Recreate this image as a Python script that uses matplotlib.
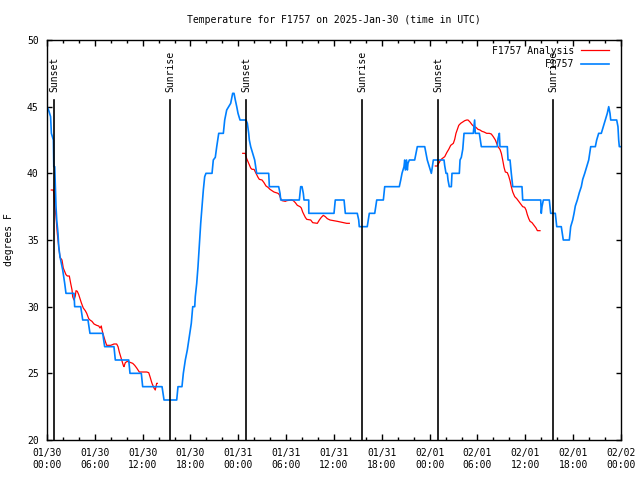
"""Temperature for F1757, 2025-Jan-30 .. Feb-02 (gnuplot style recreation)."""
import matplotlib
matplotlib.use("Agg")
import matplotlib.pyplot as plt
import matplotlib.dates as mdates
import matplotlib.transforms as mtransforms
import numpy as np
import pandas as pd

# ---- data: hours since 2025-01-30 00:00 UTC, temperature in F ----
obs_hours = [
    0.0, 0.2, 0.45, 0.55, 0.8, 0.85, 0.97, 1.04, 1.13, 1.22, 1.38, 1.47, 1.63, 1.97, 2.22, 2.38,
    3.39, 3.47, 4.23, 4.48, 5.14, 5.39, 6.99, 7.23, 8.40, 8.57, 10.25, 10.41, 11.83, 12.0,
    14.43, 14.68, 16.27, 16.43, 16.93, 17.10, 17.35, 17.60, 17.85, 18.10, 18.28, 18.53, 18.60,
    18.78, 18.94, 19.10, 19.28, 19.44, 19.61, 19.78, 19.94, 20.70, 20.86, 21.11, 21.29, 21.54,
    22.12, 22.29, 22.54, 22.79, 23.04, 23.29, 23.46, 23.62, 23.80, 23.96, 24.21, 24.96, 25.13,
    25.30, 25.38, 25.55, 25.80, 26.05, 26.22, 26.30, 27.81, 27.89, 29.06, 29.23, 29.32, 31.65,
    31.82, 31.99, 32.15, 32.24, 32.83, 32.84, 36.00, 36.16, 37.26, 37.42, 38.92, 39.10, 39.17,
    40.17, 40.43, 41.11, 41.36, 42.19, 42.36, 44.19, 44.37, 44.53, 44.78, 44.87, 44.95, 45.10,
    45.20, 45.28, 45.45, 46.12, 46.29, 46.45, 47.38, 47.54, 47.70, 47.95, 48.21, 48.29, 48.46,
    49.80, 49.88, 50.05, 50.21, 50.30, 50.46, 50.72, 50.80, 51.72, 51.81, 51.97, 52.15, 52.31,
    53.47, 53.64, 53.72, 54.23, 54.48, 56.48, 56.57, 56.74, 56.82, 57.74, 57.83, 58.08, 58.24,
    58.42, 59.58, 59.67, 61.93, 62.00, 62.09, 62.26, 63.01, 63.18, 63.76, 63.94, 64.51, 64.76,
    65.52, 65.69, 65.94, 66.11, 66.27, 66.52, 66.77, 67.02, 67.20, 67.45, 67.70, 67.95, 68.20,
    68.78, 68.95, 69.20, 69.53, 69.78, 70.03, 70.28, 70.46, 70.62, 70.71, 71.46, 71.62, 71.71,
    71.79, 72.0,
]
obs_temp = [
    45, 44.75, 44.25, 43, 42.5, 40.5, 40.5, 39.25, 37.5, 36.5, 35.5, 34.5, 33.75, 32.75, 31.75, 31,
    31, 30, 30, 29, 29, 28, 28, 27, 27, 26, 26, 25, 25, 24,
    24, 23, 23, 24, 24, 25, 26, 26.75, 27.75, 28.75, 30, 30, 30.75,
    31.75, 33, 34.5, 36.25, 37.5, 38.75, 39.75, 40, 40, 41, 41.2, 42, 43,
    43, 44, 44.75, 45, 45.25, 46, 46, 45.5, 45, 44.5, 44, 44, 43.75,
    43, 42.5, 42, 41.5, 41, 40.3, 40, 40, 39, 39, 38.5, 38, 38,
    39, 39, 38.5, 38, 38, 37, 37, 38, 38, 37, 37, 36.5, 36,
    36, 37, 37, 38, 38, 39, 39, 39.5, 40, 40.5, 41, 40.25, 41,
    40.25, 40.75, 41, 41, 41.5, 42, 42, 41.5, 41, 40.5, 40, 40.3, 41,
    41, 40.6, 40, 40, 39.5, 39, 39, 40, 40, 41, 41.2, 41.8, 43,
    43, 44, 43, 43, 42, 42, 42.6, 43, 42, 42, 41, 41, 40,
    39, 39, 38, 38, 37, 37.5, 38, 38, 37, 37, 36, 36, 35,
    35, 36, 36.5, 37, 37.55, 38, 38.55, 39, 39.55, 40, 40.5, 41, 42,
    42, 42.5, 43, 43, 43.5, 44, 44.5, 45, 44.5, 44, 44, 43.5, 42.5,
    42, 42,
]

# analysis series, three nightly segments separated by gaps (nan)
ana_hours = [
    0.54, 0.79, 0.88, 0.97, 1.13, 1.29, 1.47, 1.63, 1.88, 2.04, 2.38, 2.55, 2.80, 2.97, 3.14,
    3.22, 3.39, 3.55, 3.64, 3.80, 3.98, 4.14, 4.30, 4.55, 4.80, 4.98, 5.23, 5.39, 5.64, 5.90,
    6.23, 6.49, 6.65, 6.81, 6.90, 7.06, 7.31, 7.49, 7.99, 8.40, 8.74, 8.91, 9.07, 9.24, 9.41,
    9.57, 9.66, 9.82, 10.07, 10.50, 10.75, 11.00, 11.25, 11.58, 12.51, 12.76, 12.92, 13.17,
    13.42, 13.58, 13.76, 13.83, np.nan,
    24.55, 24.87, 25.05, 25.30, 25.55, 25.72, 25.97, 26.22, 26.47, 26.63, 26.97, 27.22, 27.47,
    27.72, 27.97, 28.22, 28.47, 28.73, 28.98, 29.14, 29.32, 29.48, 29.90, 30.07, 30.65, 30.90,
    31.15, 31.40, 31.74, 31.90, 32.07, 32.24, 32.40, 32.58, 33.08, 33.33, 33.91, 34.16, 34.41,
    34.66, 34.91, 35.16, 35.50, 36.42, 37.17, 37.59, 37.92, np.nan,
    48.71, 48.96, 49.13, 49.38, 49.55, 49.89, 50.14, 50.39, 50.64, 50.97, 51.14, 51.30, 51.47,
    51.65, 51.89, 52.15, 52.40, 52.65, 52.81, 53.06, 53.31, 53.56, 53.81, 54.06, 54.31, 54.56,
    54.82, 55.15, 55.48, 55.73, 55.98, 56.24, 56.41, 56.57, 56.82, 56.99, 57.16, 57.33, 57.49,
    57.74, 57.91, 58.08, 58.24, 58.42, 58.67, 58.92, 59.17, 59.42, 59.67, 59.92, 60.09, 60.25,
    60.43, 60.59, 60.84, 61.09, 61.34, 61.51, 61.84,
]
ana_temp = [
    38.75, 38.75, 38.4, 37.6, 36.75, 35.5, 34.5, 33.7, 33.5, 32.9, 32.4, 32.3, 32.3, 31.75, 31.25,
    30.75, 30.5, 30.8, 31.2, 31.15, 30.9, 30.6, 30.3, 29.9, 29.7, 29.5, 29.1, 29.0, 28.9, 28.7,
    28.6, 28.55, 28.4, 28.55, 28.25, 27.9, 27.4, 27.1, 27.1, 27.2, 27.2, 27.0, 26.6, 26.25, 25.9,
    25.6, 25.5, 25.8, 25.9, 25.8, 25.75, 25.6, 25.4, 25.1, 25.1, 25.05, 24.75, 24.25,
    23.9, 23.75, 24.25, 24.25, np.nan,
    41.5, 41.5, 41.1, 40.75, 40.4, 40.3, 40.3, 40.0, 39.7, 39.55, 39.5, 39.3, 39.05,
    38.95, 38.8, 38.7, 38.6, 38.55, 38.5, 38.4, 38.1, 37.95, 37.9, 37.95, 38.0, 37.95,
    37.8, 37.6, 37.5, 37.4, 37.1, 36.9, 36.7, 36.55, 36.5, 36.3, 36.25, 36.5, 36.7,
    36.85, 36.75, 36.6, 36.5, 36.4, 36.3, 36.25, 36.25, np.nan,
    40.55, 40.55, 40.75, 41.0, 41.1, 41.25, 41.55, 41.8, 42.1, 42.25, 42.55, 43.0, 43.3,
    43.6, 43.75, 43.85, 43.95, 44.0, 44.0, 43.85, 43.65, 43.5, 43.45, 43.3, 43.25, 43.15,
    43.1, 43.0, 43.0, 42.95, 42.75, 42.5, 42.25, 42.0, 41.8, 41.5, 41.0, 40.45, 40.1,
    40.05, 39.8, 39.45, 39.0, 38.6, 38.25, 38.1, 37.9, 37.7, 37.5, 37.45, 37.25, 36.9,
    36.6, 36.4, 36.3, 36.1, 35.9, 35.7, 35.7,
]

sun_hours = [0.88, 15.43, 24.97, 39.50, 49.06, 63.50]
sun_labels = ["Sunset", "Sunrise", "Sunset", "Sunrise", "Sunset", "Sunrise"]

START = pd.Timestamp("2025-01-30 00:00")


def to_time(hours):
    return START + pd.to_timedelta(np.asarray(hours, dtype=float), unit="h")


plt.rcParams["font.family"] = "DejaVu Sans Mono"
plt.rcParams["font.size"] = 7

fig = plt.figure(figsize=(6.4, 4.8), dpi=100)
ax = fig.add_axes([47 / 640, 40 / 480, 574 / 640, 400 / 480])

ax.plot(to_time(ana_hours), ana_temp, color="#ff0000", lw=0.9, label="F1757 Analysis")
ax.plot(to_time(obs_hours), obs_temp, color="#0080ff", lw=1.2, label="F1757")

trans = mtransforms.blended_transform_factory(ax.transData, ax.transAxes)
for h, lab in zip(sun_hours, sun_labels):
    t = mdates.date2num(to_time([h])[0])
    ax.plot([t, t], [0, 0.85], color="black", lw=1.2, transform=trans, zorder=3)
    ax.text(t, 0.87, lab, rotation=90, ha="center", va="bottom", transform=trans)

ax.set_xlim(START, START + pd.Timedelta(hours=72))
ax.set_ylim(20, 50)
ax.xaxis.set_major_locator(mdates.HourLocator(byhour=range(0, 24, 6)))
ax.xaxis.set_minor_locator(mdates.HourLocator(byhour=range(0, 24, 2)))
ax.xaxis.set_major_formatter(mdates.DateFormatter("%m/%d\n%H:%M"))
ax.set_yticks(np.arange(20, 51, 5))

ax.tick_params(which="both", direction="in", top=True, right=True, colors="black")
ax.tick_params(which="major", length=4.5, width=1.0, pad=6)
ax.tick_params(which="minor", length=2.3, width=1.0)
ax.tick_params(axis="y", which="major", length=3.5)
for sp in ax.spines.values():
    sp.set_linewidth(1.0)

ax.set_title("Temperature for F1757 on 2025-Jan-30 (time in UTC)", fontsize=7, pad=12.5)
ax.set_ylabel("degrees F")
ax.yaxis.set_label_coords(-0.057, 0.5)

ax.legend(loc="upper right", frameon=False, markerfirst=False, handlelength=2.9,
          handletextpad=0.7, labelspacing=0.35, borderaxespad=1.0, borderpad=0.2,
          bbox_to_anchor=(1.0, 1.015))

fig.savefig("out.png", dpi=100)
